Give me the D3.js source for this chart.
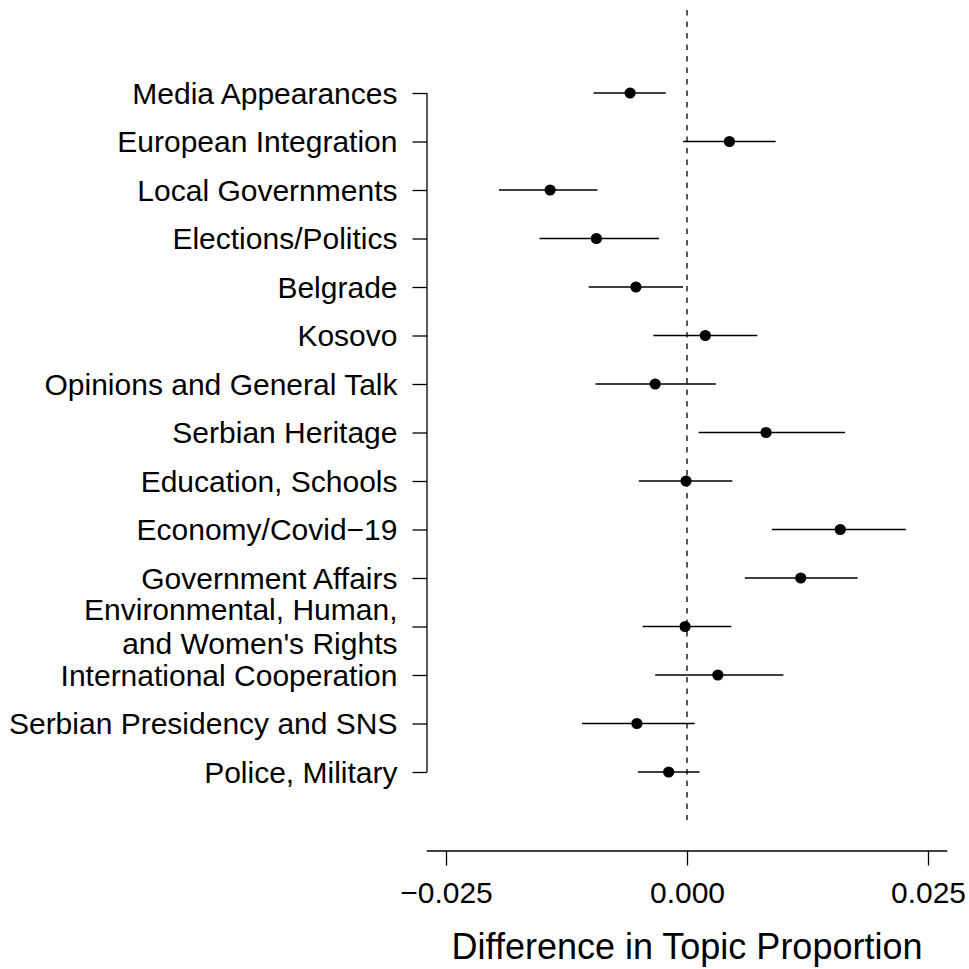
<!DOCTYPE html>
<html>
<head>
<meta charset="utf-8">
<script src="https://cdn.jsdelivr.net/npm/d3@7"></script>
<style>
body { margin: 0; background: white; }
text { font-family: "Liberation Sans", Arial, sans-serif; fill: black; }
</style>
</head>
<body>
<svg id="chart" width="969" height="969"></svg>
<script>
// topic labels, top to bottom ("\n" splits a label over two lines)
var topics = [
    "Media Appearances",
    "European Integration",
    "Local Governments",
    "Elections/Politics",
    "Belgrade",
    "Kosovo",
    "Opinions and General Talk",
    "Serbian Heritage",
    "Education, Schools",
    "Economy/Covid\u221219",
    "Government Affairs",
    "Environmental, Human,\nand Women's Rights",
    "International Cooperation",
    "Serbian Presidency and SNS",
    "Police, Military"
]
var estimates = [-0.0059, 0.0044, -0.0142, -0.0094, -0.0053, 0.0019, -0.0033, 0.0082, -0.0001, 0.0159, 0.0118, -0.0002, 0.0032, -0.0052, -0.0019]
var lowers = [-0.0097, -0.0004, -0.0195, -0.0153, -0.0102, -0.0035, -0.0095, 0.0012, -0.0050, 0.0088, 0.0060, -0.0046, -0.0033, -0.0109, -0.0051]
var uppers = [-0.0022, 0.0092, -0.0093, -0.0029, -0.0004, 0.0073, 0.0030, 0.0164, 0.0047, 0.0227, 0.0177, 0.0046, 0.0100, 0.0008, 0.0013]
var xTicks = [-0.025, 0, 0.025]
var xTitle = "Difference in Topic Proportion"

var svg = d3.select("#chart")
var fontSize = 30
var lineW = 1.3
var tickLen = 14.5

var xScale = d3.scaleLinear()
    .domain([-0.025, 0.025])
    .range([446, 928])

var yScale = d3.scalePoint()
    .domain(d3.range(topics.length))
    .range([93, 772])

var axisY = 851
var axisX = 427

function drawXAxis(){
    var xAxis = d3.axisBottom(xScale)
	.tickValues(xTicks)
	.tickFormat(d3.format(".3f"))
	.tickSize(tickLen)
	.tickSizeOuter(0)

    var g = svg.append("g")
	.attr("transform", "translate(0," + axisY + ")")
	.call(xAxis)
    g.select(".domain").remove()
    g.selectAll(".tick line")
	.attr("stroke", "black")
	.attr("stroke-width", lineW)
    g.selectAll(".tick text")
	.attr("font-size", fontSize + "px")
	.attr("font-family", "Liberation Sans, Arial, sans-serif")
	.attr("dy", null)
	.attr("y", 52)

    // the axis line runs a bit past the outer ticks
    svg.append("line")
	.attr("x1", xScale(-0.027))
	.attr("x2", xScale(0.027))
	.attr("y1", axisY)
	.attr("y2", axisY)
	.attr("stroke", "black")
	.attr("stroke-width", lineW)

    svg.append("text")
	.attr("x", xScale(0))
	.attr("y", 959)
	.attr("text-anchor", "middle")
	.attr("font-size", (fontSize * 1.2) + "px")
	.text(xTitle)
}

function drawYAxis(){
    var yAxis = d3.axisLeft(yScale)
	.tickSize(tickLen)
	.tickSizeOuter(0)
	.tickFormat("")

    var g = svg.append("g")
	.attr("transform", "translate(" + axisX + ",0)")
	.call(yAxis)
    g.select(".domain")
	.attr("stroke", "black")
	.attr("stroke-width", lineW)
	.attr("d", "M0," + yScale(0) + "V" + yScale(topics.length - 1))
    g.selectAll(".tick line")
	.attr("stroke", "black")
	.attr("stroke-width", lineW)

    var labels = svg.append("g")
	.attr("id", "topicLabels")
    topics.map(function(t, i){
	var parts = t.split("\n")
	var lh = 34
	parts.map(function(p, j){
	    var off = (j - (parts.length - 1) / 2) * lh
	    labels.append("text")
		.attr("x", axisX - tickLen - 15)
		.attr("y", yScale(i) + off + fontSize * 0.35)
		.attr("text-anchor", "end")
		.attr("font-size", fontSize + "px")
		.text(p)
	})
    })
}

function drawZeroLine(){
    svg.append("line")
	.attr("x1", xScale(0))
	.attr("x2", xScale(0))
	.attr("y1", 10)
	.attr("y2", 820)
	.attr("stroke", "black")
	.attr("stroke-width", lineW)
	.attr("stroke-dasharray", "5.5,6")
}

function drawEstimates(){
    var g = svg.append("g")
	.attr("id", "estimates")

    g.selectAll("line")
	.data(d3.range(topics.length))
	.enter()
	.append("line")
	.attr("x1", function(i){ return xScale(lowers[i]); })
	.attr("x2", function(i){ return xScale(uppers[i]); })
	.attr("y1", function(i){ return yScale(i); })
	.attr("y2", function(i){ return yScale(i); })
	.attr("stroke", "black")
	.attr("stroke-width", lineW)

    g.selectAll("circle")
	.data(d3.range(topics.length))
	.enter()
	.append("circle")
	.attr("cx", function(i){ return xScale(estimates[i]); })
	.attr("cy", function(i){ return yScale(i); })
	.attr("r", 5.6)
	.attr("fill", "black")
}

drawZeroLine()
drawEstimates()
drawYAxis()
drawXAxis()
</script>
</body>
</html>
